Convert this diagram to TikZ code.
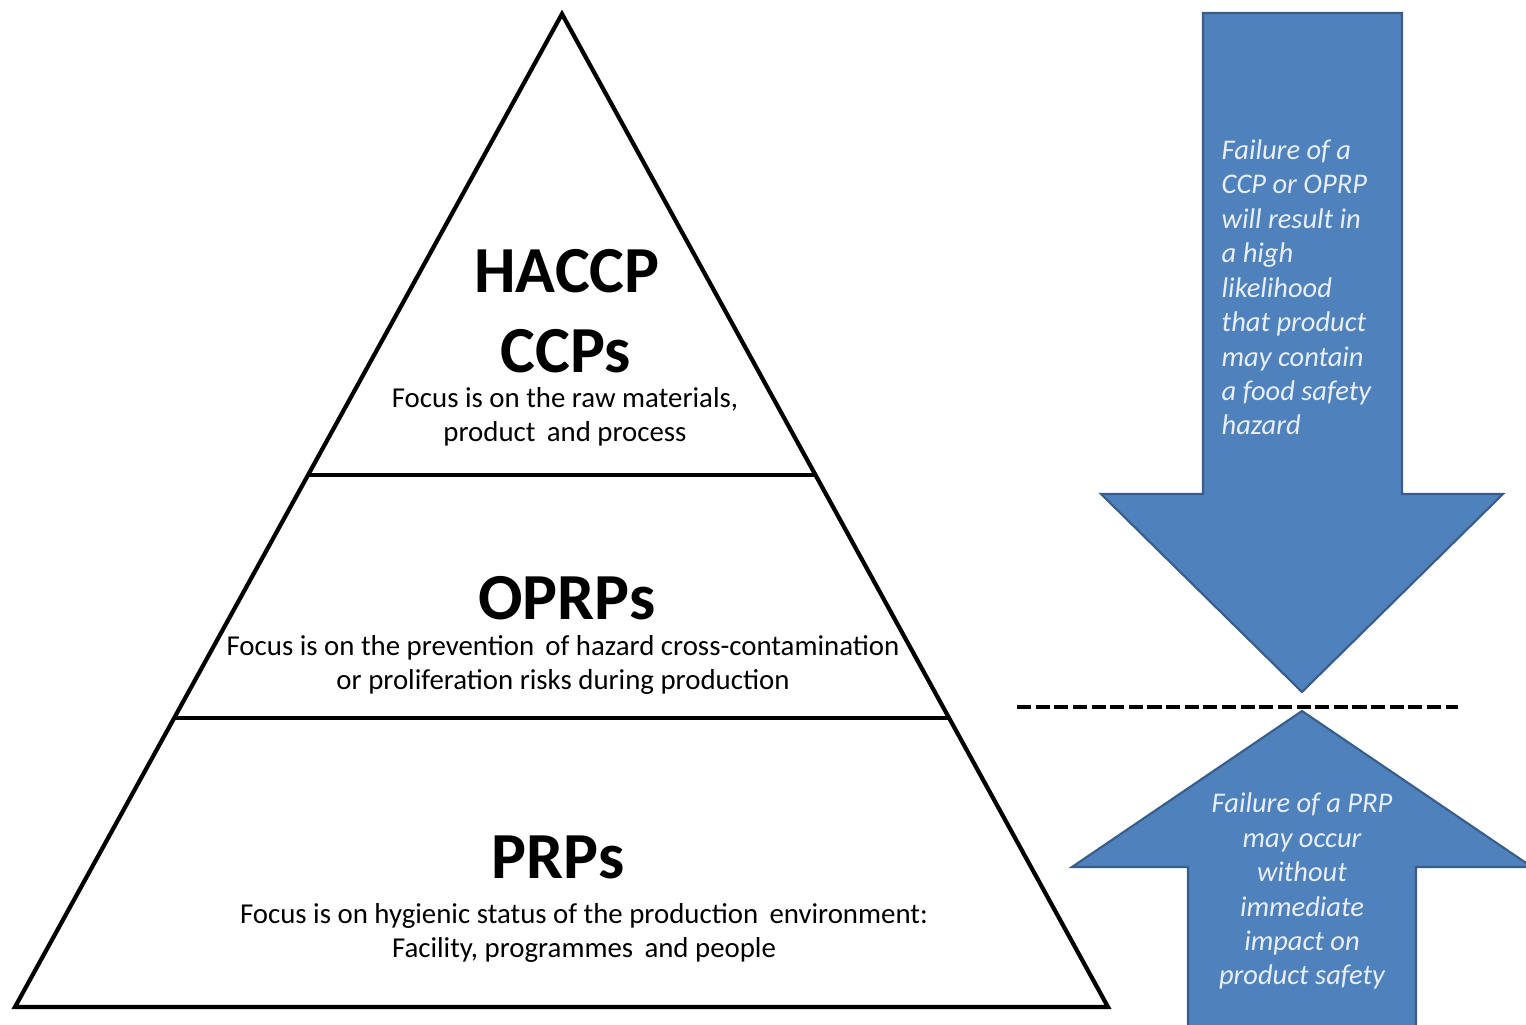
\documentclass[tikz,border=0pt]{standalone}
\usepackage{fontspec}
\setmainfont{Carlito}
\usetikzlibrary{calc,positioning}

\definecolor{arrowblue}{RGB}{79,129,189}
\definecolor{arrowedge}{RGB}{56,93,138}
\definecolor{notetext}{RGB}{232,239,248}

\begin{document}
\begin{tikzpicture}[x=0.01cm,y=-0.01cm,
    tier/.style={line width=1.2pt,line join=miter},
    title/.style={font=\fontsize{18.7}{21.6}\selectfont\bfseries,anchor=base,inner sep=0pt},
    focus/.style={font=\fontsize{8.2}{9.8}\selectfont,align=center,anchor=base,inner sep=0pt},
    blockarrow/.style={fill=arrowblue,draw=arrowedge,line width=0.6pt,line join=miter},
    note/.style={font=\fontsize{8.1}{9.8}\selectfont\itshape,text=notetext,inner sep=0pt,anchor=base}]
  \useasboundingbox (0,0) rectangle (1526,1025);
  \fill[white] (0,0) rectangle (1526,1025);
  % pyramid with its two dividers
  \coordinate (apex) at (562,14);
  \coordinate (bl) at (15,1007);
  \coordinate (br) at (1108,1007);
  \draw[tier] (apex) -- (bl) -- (br) -- cycle;
  \draw[tier] ($(apex)!0.4643!(bl)$) -- ($(apex)!0.4643!(br)$);
  \draw[tier] ($(apex)!0.709!(bl)$) -- ($(apex)!0.709!(br)$);
  % multi-line nodes sit on the baseline of their last line
  \node[title] (haccp) at (567,293) {HACCP};
  \node[title] (ccps) at (566,373) {CCPs};
  \node[focus] (ccpfocus) at (565,442) {Focus is on the raw materials,\\product\, and process};
  \node[title] (oprps) at (567,620) {OPRPs};
  \node[focus] (oprpfocus) at (563,690) {Focus is on the prevention\, of hazard cross-contamination\\or proliferation risks during production};
  \node[title] (prps) at (558,879) {PRPs};
  \node[focus] (prpfocus) at (584,958) {Focus is on hygienic status of the production\, environment:\\Facility, programmes\, and people};
  % block arrows either side of the dashed threshold
  \draw[blockarrow] (1203,13) -- (1402,13) -- (1402,494) -- (1503,494) -- (1302,692)
    -- (1101,494) -- (1203,494) -- cycle;
  \draw[blockarrow] (1188,1030) -- (1188,867) -- (1072,867) -- (1302,711) -- (1532,867)
    -- (1416,867) -- (1416,1030);
  \coordinate (cut1) at (1017,707);
  \coordinate (cut2) at (1458,707);
  \draw[line width=1pt,dash pattern=on 4pt off 1.3pt] (cut1) -- (cut2);
  \node[note,anchor=base west,align=left] (ccpnote) at (1221,435) {Failure of a\\CCP or OPRP\\will result in\\a high\\likelihood\\that product\\may contain\\a food safety\\hazard};
  \node[note,align=center] (prpnote) at (1302,985) {Failure of a PRP\\may occur\\without\\immediate\\impact on\\product safety};
\end{tikzpicture}
\end{document}
